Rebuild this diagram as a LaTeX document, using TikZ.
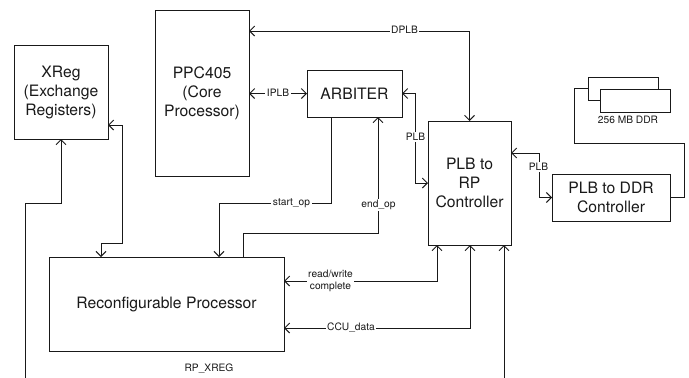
\documentclass[tikz,border=0pt]{standalone}
\usepackage{fontspec}
\setmainfont{TeX Gyre Heros}
\usetikzlibrary{arrows.meta,calc}
\definecolor{ink}{gray}{0.1}
\tikzset{
  x=1pt,y=-1pt,
  box/.style={draw=ink,line width=0.95pt,fill=white,inner sep=0,outer sep=0,align=center,text=ink,font=\fontsize{15.7}{19}\selectfont},
  plainbox/.style={draw=ink,line width=0.95pt,fill=white,inner sep=0,outer sep=0},
  wire/.style={draw=ink,line width=0.95pt},
  both/.style={wire,{Straight Barb[length=5pt,width=10pt]}-{Straight Barb[length=5pt,width=10pt]}},
  tip/.style={wire,-{Straight Barb[length=5pt,width=10pt]}},
  tag/.style={fill=white,inner sep=1.5pt,text=ink,align=center,font=\fontsize{10.2}{12}\selectfont},
  freetag/.style={tag,fill=none},
}
\begin{document}
\begin{tikzpicture}
\useasboundingbox (0,0) rectangle (689,378);
% boxes
\node[box,minimum width=94,minimum height=94] (xreg) at (61,92) {XReg\\(Exchange\\Registers)};
\node[box,minimum width=94,minimum height=166] (ppc) at (202,93) {PPC405\\(Core\\Processor)};
\node[box,minimum width=95,minimum height=47] (arb) at (354.5,93.5) {ARBITER};
\node[box,minimum width=83,minimum height=124] (ctl) at (469.5,183) {PLB to\\RP\\Controller};
\node[box,minimum width=118,minimum height=47] (ddrc) at (611,197.5) {PLB to DDR\\Controller};
\node[box,minimum width=235,minimum height=94] (rp) at (166.5,304) {Reconfigurable Processor};
\node[plainbox,minimum width=70,minimum height=23] (ddrb) at (623,88.5) {};
\node[plainbox,minimum width=70,minimum height=23] (ddrf) at (635,100.5) {};
\node[freetag] (ddrl) at (628,120) {256 MB DDR};
% free ends
\coordinate (xregend) at (25,378);
\coordinate (lowend) at (504,378);
% connectors
\draw[both] (ctl.north) -- (469.5,31) -- (ppc.east |- 0,31);
\draw[both] (ppc.east |- arb.west) -- (arb.west);
\draw[both] (arb.east) -- (415,93.5) -- (415,183) -- (ctl.west |- 0,183);
\draw[both] (ctl.east |- 0,153) -- (539,153) -- (539,197.5) -- (ddrc.west);
\draw[tip] (xregend) -- (25,203) -- (61,203) -- (xreg.south);
\draw[both] (xreg.east |- 0,125) -- (122,125) -- (122,243) -- (101,243) -- (rp.north -| 101,0);
\draw[tip] (arb.south -| 331,0) -- (331,203) -- (219,203) -- (rp.north -| 219,0);
\draw[tip] (rp.north -| 243,0) -- (243,233) -- (378,233) -- (arb.south -| 378,0);
\draw[both] (rp.east |- 0,281) -- (437,281) -- (ctl.south -| 437,0);
\draw[both] (rp.east |- 0,328) -- (470,328) -- (ctl.south -| 470,0);
\draw[tip] (lowend) -- (ctl.south -| 504,0);
\draw[wire] (ddrb.west |- 0,88) -- (574,88) -- (574,143) -- (684,143) -- (684,197) -- (ddrc.east |- 0,197);
% labels
\node[tag] (dplbl) at (404.5,30) {DPLB};
\node[tag] (iplbl) at (278,93) {IPLB};
\node[tag] (plba) at (415.5,137) {PLB};
\node[tag] (plbb) at (538.5,167) {PLB};
\node[tag] (startl) at (291.5,203) {start\_op};
\node[tag] (endl) at (378.5,205) {end\_op};
\node[tag] (rwl) at (330.5,281) {read/write\\complete};
\node[tag] (ccul) at (351,328) {CCU\_data};
\node[freetag] (xregl) at (209,369) {RP\_XREG};
\end{tikzpicture}
\end{document}
